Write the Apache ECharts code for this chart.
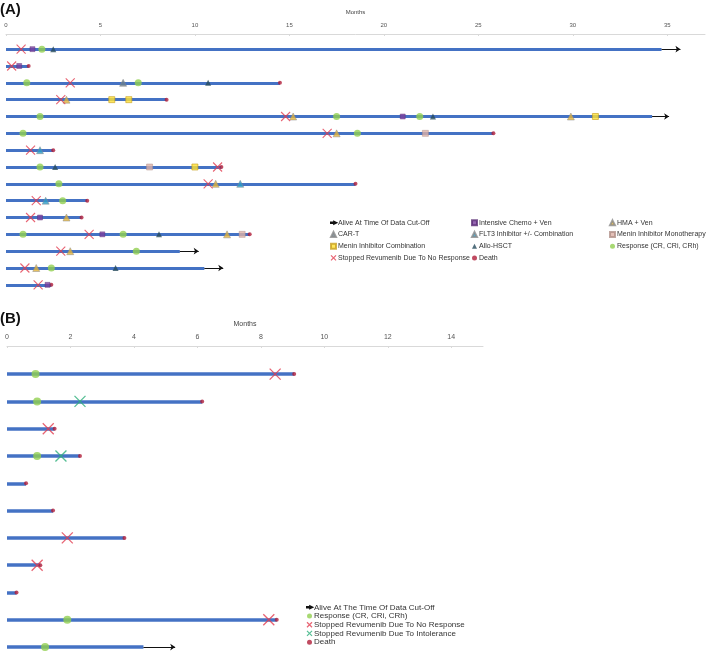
<!DOCTYPE html>
<html>
<head>
<meta charset="utf-8">
<script src="https://cdn.jsdelivr.net/npm/echarts@6/dist/echarts.min.js"></script>
<style>
  html, body { margin: 0; padding: 0; background: #fff; }
  #chart { width: 709px; height: 658px; }
</style>
</head>
<body>
<div id="chart"></div>
<script>
// ---- Panel A data (months, row index from top) ----
const durA = [34.7, 1.2, 14.5, 8.5, 34.2, 25.8, 2.5, 11.4, 18.5, 4.3, 4.0, 12.9, 9.2, 10.5, 2.4];
// [row, bar end, arrow end] for patients alive at cut-off
const aliveA = [[0, 34.7, 35.7], [4, 34.2, 35.1], [12, 9.2, 10.2], [13, 10.5, 11.5]];
const noRespA = [[0.8, 0], [0.3, 1], [3.4, 2], [2.9, 3], [14.8, 4], [17.0, 5], [1.3, 6], [11.2, 7],
  [10.7, 8], [1.6, 9], [1.3, 10], [4.4, 11], [2.9, 12], [1.0, 13], [1.7, 14]];
const chemoA = [[1.4, 0], [0.7, 1], [21.0, 4], [1.8, 10], [5.1, 11], [2.2, 14]];
const respA = [[1.9, 0], [1.1, 2], [7.0, 2], [1.8, 4], [17.5, 4], [21.9, 4], [0.9, 5], [18.6, 5],
  [1.8, 7], [2.8, 8], [3.0, 9], [0.9, 11], [6.2, 11], [6.9, 12], [2.4, 13]];
const hmaA = [[3.2, 3], [15.2, 4], [29.9, 4], [17.5, 5], [11.1, 8], [3.2, 10], [11.7, 11], [3.4, 12], [1.6, 13]];
const cartA = [[6.2, 2]];
const flt3A = [[1.8, 6], [12.4, 8], [2.1, 9]];
const hsctA = [[2.5, 0], [10.7, 2], [22.6, 4], [2.6, 7], [8.1, 11], [5.8, 13]];
const meninComboA = [[5.6, 3], [6.5, 3], [31.2, 4], [10.0, 7]];
const meninMonoA = [[22.2, 5], [7.6, 7], [12.5, 11]];

// ---- Panel B data ----
const durB = [9.05, 6.15, 1.5, 2.3, 0.6, 1.45, 3.7, 1.05, 0.3, 8.5, 4.3];
const aliveB = [[10, 4.3, 5.3]];
const respB = [[0.9, 0], [0.95, 1], [0.95, 3], [1.9, 9], [1.2, 10]];
const noRespB = [[8.45, 0], [1.3, 2], [1.9, 6], [0.95, 7], [8.25, 9]];
const intolB = [[2.3, 1], [1.7, 3]];

const ticksA = { min: 0, max: 37, interval: 5 };
const ticksB = { min: 0, max: 15, interval: 2 };

const BLUE = "#4472C4";
const RED = "#E23D50";
const DEATH = "#B01E3A";
const GREEN = "#92D050";
const FONT = "Liberation Sans";
const XPATH = "path://M0,0L10,10M10,0L0,10";
const ARROW = "path://M0,3.5H6V2.3L9.5,4L6,5.7V4.5H0Z";

let dom = document.getElementById("chart");
let myChart = echarts.init(dom, null, { renderer: "canvas" });

function deaths(dur, alive) {
  const aliveRows = alive.map((a) => a[0]);
  return dur.map((d, i) => [d, i]).filter((p) => aliveRows.indexOf(p[1]) < 0);
}

function barsSeries(dur, alive, idx, width) {
  // bar ends where the alive arrow starts
  return {
    type: "lines",
    coordinateSystem: "cartesian2d",
    xAxisIndex: idx,
    yAxisIndex: idx,
    silent: true,
    z: 1,
    lineStyle: { color: BLUE, width: width, opacity: 1, cap: "butt" },
    data: dur.map((d, i) => ({ coords: [[0, i], [d, i]] })),
  };
}

function arrowSeries(name, alive, idx) {
  return {
    name: name,
    type: "lines",
    coordinateSystem: "cartesian2d",
    xAxisIndex: idx,
    yAxisIndex: idx,
    silent: true,
    z: 1,
    symbol: ["none", "arrow"],
    symbolSize: 5,
    lineStyle: { color: "#111", width: 1, opacity: 1 },
    itemStyle: { color: "#111" },
    data: alive.map((a) => ({ coords: [[a[1], a[0]], [a[2], a[0]]] })),
  };
}

function marks(name, data, idx, symbol, size, style, z) {
  return {
    name: name,
    type: "scatter",
    xAxisIndex: idx,
    yAxisIndex: idx,
    symbol: symbol,
    symbolSize: size,
    itemStyle: style,
    z: z || 3,
    data: data,
  };
}

const xStyle = { color: "transparent", borderColor: RED, borderWidth: 1.1 };
const xStyleB = { color: "transparent", borderColor: RED, borderWidth: 1.3 };
const intolStyle = { color: "transparent", borderColor: "#2DAF7A", borderWidth: 1.3 };

function xAxisCfg(idx, ticks, fs, margin, gap) {
  return {
    type: "value",
    gridIndex: idx,
    position: "top",
    min: ticks.min,
    max: ticks.max,
    interval: ticks.interval,
    name: "Months",
    nameLocation: "middle",
    nameGap: gap,
    nameTextStyle: { fontSize: fs, color: "#444", fontFamily: FONT },
    axisLine: { show: true, onZero: false, lineStyle: { color: "#D9D9D9", width: 1 } },
    axisTick: { show: true, inside: true, length: 2, lineStyle: { color: "#D9D9D9" } },
    axisLabel: { fontSize: fs, color: "#555", margin: margin, fontFamily: FONT, showMaxLabel: false },
    splitLine: { show: false },
  };
}

function legendCol(left, top, names, fs, lh) {
  return {
    orient: "vertical",
    left: left,
    top: top,
    itemWidth: 5,
    itemHeight: 5,
    itemGap: 0,
    padding: 0,
    selectedMode: false,
    textStyle: { fontSize: fs, lineHeight: lh, color: "#333", fontFamily: FONT, padding: [0, 0, 0, -3] },
    data: names,
  };
}

const legendIcons = {
  "Alive At Time Of Data Cut-Off": { icon: ARROW, itemStyle: { color: "#111" } },
  "Alive At The Time Of Data Cut-Off": { icon: ARROW, itemStyle: { color: "#111" } },
  "Stopped Revumenib Due To No Response": { icon: XPATH, itemStyle: { color: "transparent", borderColor: RED, borderWidth: 1.2 } },
  "Stopped Revumenib Due To Intolerance": { icon: XPATH, itemStyle: { color: "transparent", borderColor: "#2DAF7A", borderWidth: 1.2 } },
};
function legItems(names) {
  return names.map((n) => Object.assign({ name: n }, legendIcons[n] || {}));
}

option = {
  animation: false,
  backgroundColor: "#fff",
  title: [
    { text: "(A)", left: 0, top: 2, padding: 0, textStyle: { fontSize: 15, fontWeight: "bold", color: "#111", fontFamily: FONT } },
    { text: "(B)", left: 0, top: 311, padding: 0, textStyle: { fontSize: 15, fontWeight: "bold", color: "#111", fontFamily: FONT } },
  ],
  grid: [
    { left: 6, top: 34, width: 699, height: 266 },
    { left: 7, top: 346, width: 476, height: 312 },
  ],
  xAxis: [xAxisCfg(0, ticksA, 6, 6, 19), xAxisCfg(1, ticksB, 7, 5, 18)],
  yAxis: [
    { type: "value", gridIndex: 0, min: -0.9, max: 14.9, inverse: true, show: false },
    { type: "value", gridIndex: 1, min: -1.03, max: 10.4, inverse: true, show: false },
  ],
  legend: [
    legendCol(330, 217, legItems(["Alive At Time Of Data Cut-Off", "CAR-T", "Menin Inhibitor Combination", "Stopped Revumenib Due To No Response"]), 7, 11.7),
    legendCol(471, 217, legItems(["Intensive Chemo + Ven", "FLT3 Inhibitor +/- Combination", "Allo-HSCT", "Death"]), 7, 11.7),
    legendCol(609, 217, legItems(["HMA + Ven", "Menin Inhibitor Monotherapy", "Response (CR, CRi, CRh)"]), 7, 11.7),
    legendCol(306, 603, legItems(["Alive At The Time Of Data Cut-Off", "Response (CR, CRi, CRh)", "Stopped Revumenib Due To No Response", "Stopped Revumenib Due To Intolerance", "Death"]), 8, 8.7),
  ],
  series: [
    barsSeries(durA, aliveA, 0, 3),
    arrowSeries("Alive At Time Of Data Cut-Off", aliveA, 0),
    marks("Intensive Chemo + Ven", chemoA, 0, "rect", 5, { color: "#7B3F9E", borderColor: "#5a2d75", borderWidth: 0.5 }),
    marks("HMA + Ven", hmaA, 0, "triangle", 7, { color: "#E2B33A", borderColor: "#8a8a8a", borderWidth: 0.6 }),
    marks("CAR-T", cartA, 0, "triangle", 7, { color: "#6D808C", borderColor: "#8a8a8a", borderWidth: 0.6 }),
    marks("FLT3 Inhibitor +/- Combination", flt3A, 0, "triangle", 7, { color: "#2A9CC8", borderColor: "#8a8a8a", borderWidth: 0.6 }),
    marks("Menin Inhibitor Monotherapy", meninMonoA, 0, "rect", 6, { color: "#DDB0A6", borderColor: "#b09088", borderWidth: 0.6 }),
    marks("Menin Inhibitor Combination", meninComboA, 0, "rect", 6, { color: "#FFE135", borderColor: "#C8A020", borderWidth: 0.8 }),
    marks("Allo-HSCT", hsctA, 0, "triangle", 6, { color: "#274B5C" }),
    marks("Response (CR, CRi, CRh)", respA, 0, "circle", 7, { color: GREEN }),
    marks("Stopped Revumenib Due To No Response", noRespA, 0, XPATH, 9, xStyle, 4),
    marks("Death", deaths(durA, aliveA), 0, "circle", 4, { color: DEATH }, 2),

    barsSeries(durB, aliveB, 1, 3.5),
    arrowSeries("Alive At The Time Of Data Cut-Off", aliveB, 1),
    marks("Response (CR, CRi, CRh)", respB, 1, "circle", 8, { color: GREEN }),
    marks("Stopped Revumenib Due To No Response", noRespB, 1, XPATH, 11, xStyleB, 4),
    marks("Stopped Revumenib Due To Intolerance", intolB, 1, XPATH, 11, intolStyle, 4),
    marks("Death", deaths(durB, aliveB), 1, "circle", 4, { color: DEATH }, 2),
  ],
};

myChart.setOption(option);

window.addEventListener("resize", function () {
  if (myChart) {
    myChart.resize();
  }
});
</script>
</body>
</html>
